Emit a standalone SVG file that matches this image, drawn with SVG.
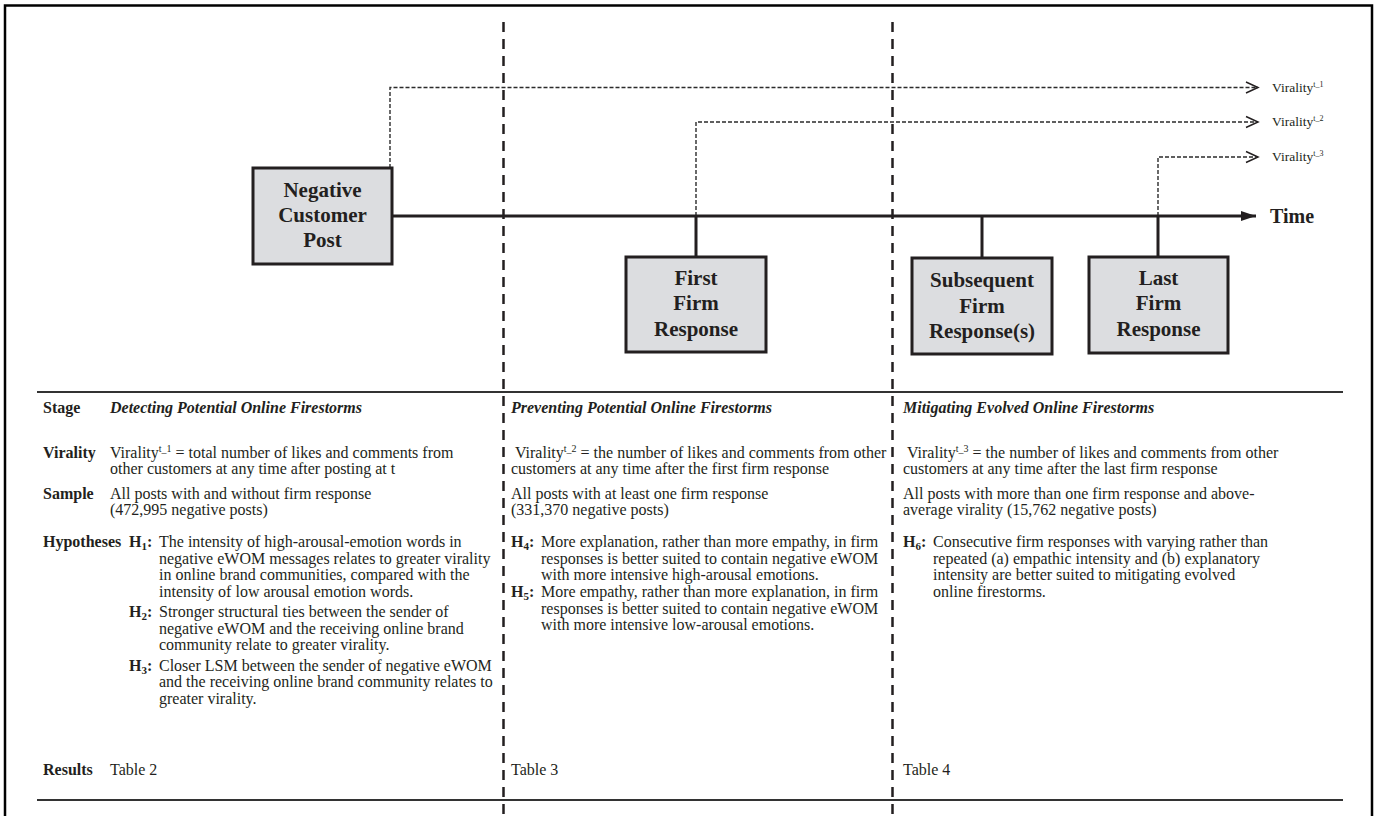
<svg xmlns="http://www.w3.org/2000/svg" width="1376" height="816" viewBox="0 0 1376 816">
<defs>
<style>
.t{font-family:"Liberation Serif","Times New Roman",serif;font-size:16px;fill:#231f20}
.b{font-weight:bold}
.bi{font-weight:bold;font-style:italic}
.box{fill:#dcdde0;stroke:#231f20;stroke-width:3}
.bt{font-family:"Liberation Serif","Times New Roman",serif;font-size:21px;font-weight:bold;text-anchor:middle;fill:#231f20}
.vl{font-family:"Liberation Serif","Times New Roman",serif;font-size:13.5px;fill:#231f20}
.dot{fill:none;stroke:#2b2b2b;stroke-width:1.4;stroke-dasharray:4 2}
.stem{fill:none;stroke:#231f20;stroke-width:3}
.sec{stroke:#231f20;stroke-width:2.5;stroke-dasharray:10 7}
.rule{stroke:#333;stroke-width:2}
.frame{fill:none;stroke:#000;stroke-width:2.5}
</style>
<marker id="chev" markerUnits="userSpaceOnUse" markerWidth="16" markerHeight="14" refX="13" refY="7" orient="auto">
<path d="M1,1.5 L13,7 L1,12.5" fill="none" stroke="#231f20" stroke-width="1.5"/>
</marker>
<marker id="tri" markerUnits="userSpaceOnUse" markerWidth="16" markerHeight="12" refX="15" refY="6" orient="auto">
<path d="M0,1 L15,6 L0,11 z" fill="#231f20"/>
</marker>
</defs>
<rect width="1376" height="816" fill="#fff"/>
<path class="frame" d="M5,816 V5.5 H1372 V816"/>

<g id="section-dividers">
<line class="sec" x1="503.5" y1="22" x2="503.5" y2="816"/>
<line class="sec" x1="892.5" y1="22" x2="892.5" y2="816"/>
</g>

<g id="connectors">
<path class="dot" d="M390,168 V87.5 H1258" marker-end="url(#chev)"/>
<path class="dot" d="M696,216 V122 H1258" marker-end="url(#chev)"/>
<path class="dot" d="M1158,216 V157 H1258" marker-end="url(#chev)"/>
<line x1="392" y1="216" x2="1256" y2="216" stroke="#231f20" stroke-width="3" marker-end="url(#tri)"/>
<line class="stem" x1="696" y1="216" x2="696" y2="257"/>
<line class="stem" x1="982" y1="216" x2="982" y2="258"/>
<line class="stem" x1="1158" y1="216" x2="1158" y2="257"/>
</g>

<g id="virality-labels">
<text class="vl" x="1272" y="92">Virality<tspan font-size="8" dy="-5">t_1</tspan></text>
<text class="vl" x="1272" y="126">Virality<tspan font-size="8" dy="-5">t_2</tspan></text>
<text class="vl" x="1272" y="161">Virality<tspan font-size="8" dy="-5">t_3</tspan></text>
<text class="bt" x="1270" y="223" style="text-anchor:start;font-size:20px">Time</text>
</g>

<g id="node-negative-post">
<rect class="box" x="253" y="168" width="139" height="96"/>
<text class="bt" x="322.5" y="197">Negative</text>
<text class="bt" x="322.5" y="222">Customer</text>
<text class="bt" x="322.5" y="247">Post</text>
</g>

<g id="node-first-response">
<rect class="box" x="626" y="257" width="140" height="95"/>
<text class="bt" x="696" y="285">First</text>
<text class="bt" x="696" y="310">Firm</text>
<text class="bt" x="696" y="336">Response</text>
</g>

<g id="node-subsequent-response">
<rect class="box" x="912" y="258" width="140" height="96"/>
<text class="bt" x="982" y="287">Subsequent</text>
<text class="bt" x="982" y="313">Firm</text>
<text class="bt" x="982" y="338">Response(s)</text>
</g>

<g id="node-last-response">
<rect class="box" x="1089" y="257" width="139" height="96"/>
<text class="bt" x="1158.5" y="285">Last</text>
<text class="bt" x="1158.5" y="310">Firm</text>
<text class="bt" x="1158.5" y="336">Response</text>
</g>

<g id="table">
<line class="rule" x1="37" y1="392" x2="1343" y2="392"/>
<line class="rule" x1="37" y1="800" x2="1343" y2="800"/>

<text class="t b" x="43" y="413">Stage</text>
<text class="t b" x="43" y="458">Virality</text>
<text class="t b" x="43" y="499">Sample</text>
<text class="t b" x="43" y="547">Hypotheses</text>
<text class="t b" x="43" y="775">Results</text>

<text class="t bi" x="110" y="413">Detecting Potential Online Firestorms</text>
<text class="t" x="110" y="458">Virality<tspan font-size="10" dy="-6">t_1</tspan><tspan dy="6"> = total number of likes and comments from</tspan></text>
<text class="t" x="110" y="474">other customers at any time after posting at t</text>
<text class="t" x="110" y="499">All posts with and without firm response</text>
<text class="t" x="110" y="515">(472,995 negative posts)</text>
<text class="t b" x="129" y="547">H<tspan font-size="11" dy="3">1</tspan><tspan dy="-3">:</tspan></text>
<text class="t" x="159" y="547">The intensity of high-arousal-emotion words in</text>
<text class="t" x="159" y="563.5">negative eWOM messages relates to greater virality</text>
<text class="t" x="159" y="580">in online brand communities, compared with the</text>
<text class="t" x="159" y="596.5">intensity of low arousal emotion words.</text>
<text class="t b" x="129" y="617">H<tspan font-size="11" dy="3">2</tspan><tspan dy="-3">:</tspan></text>
<text class="t" x="159" y="617">Stronger structural ties between the sender of</text>
<text class="t" x="159" y="633.5">negative eWOM and the receiving online brand</text>
<text class="t" x="159" y="650">community relate to greater virality.</text>
<text class="t b" x="129" y="670.5">H<tspan font-size="11" dy="3">3</tspan><tspan dy="-3">:</tspan></text>
<text class="t" x="159" y="670.5">Closer LSM between the sender of negative eWOM</text>
<text class="t" x="159" y="687">and the receiving online brand community relates to</text>
<text class="t" x="159" y="703.5">greater virality.</text>
<text class="t" x="110" y="775">Table 2</text>

<text class="t bi" x="511" y="413">Preventing Potential Online Firestorms</text>
<text class="t" x="515" y="458">Virality<tspan font-size="10" dy="-6">t_2</tspan><tspan dy="6"> = the number of likes and comments from other</tspan></text>
<text class="t" x="511" y="474">customers at any time after the first firm response</text>
<text class="t" x="511" y="499">All posts with at least one firm response</text>
<text class="t" x="511" y="515">(331,370 negative posts)</text>
<text class="t b" x="511" y="547">H<tspan font-size="11" dy="3">4</tspan><tspan dy="-3">:</tspan></text>
<text class="t" x="541" y="547">More explanation, rather than more empathy, in firm</text>
<text class="t" x="541" y="563.5">responses is better suited to contain negative eWOM</text>
<text class="t" x="541" y="580">with more intensive high-arousal emotions.</text>
<text class="t b" x="511" y="597">H<tspan font-size="11" dy="3">5</tspan><tspan dy="-3">:</tspan></text>
<text class="t" x="541" y="597">More empathy, rather than more explanation, in firm</text>
<text class="t" x="541" y="613.5">responses is better suited to contain negative eWOM</text>
<text class="t" x="541" y="630">with more intensive low-arousal emotions.</text>
<text class="t" x="511" y="775">Table 3</text>

<text class="t bi" x="903" y="413">Mitigating Evolved Online Firestorms</text>
<text class="t" x="907" y="458">Virality<tspan font-size="10" dy="-6">t_3</tspan><tspan dy="6"> = the number of likes and comments from other</tspan></text>
<text class="t" x="903" y="474">customers at any time after the last firm response</text>
<text class="t" x="903" y="499">All posts with more than one firm response and above-</text>
<text class="t" x="903" y="515">average virality (15,762 negative posts)</text>
<text class="t b" x="903" y="547">H<tspan font-size="11" dy="3">6</tspan><tspan dy="-3">:</tspan></text>
<text class="t" x="933" y="547">Consecutive firm responses with varying rather than</text>
<text class="t" x="933" y="563.5">repeated (a) empathic intensity and (b) explanatory</text>
<text class="t" x="933" y="580">intensity are better suited to mitigating evolved</text>
<text class="t" x="933" y="596.5">online firestorms.</text>
<text class="t" x="903" y="775">Table 4</text>
</g>
</svg>
